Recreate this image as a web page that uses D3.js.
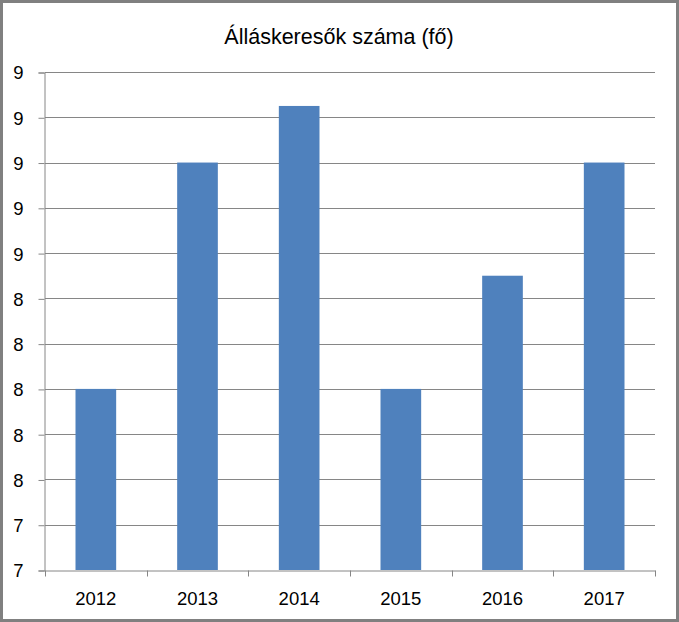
<!DOCTYPE html>
<html>
<head>
<meta charset="utf-8">
<script src="https://cdn.jsdelivr.net/npm/d3@7"></script>
<style>
  body { margin: 0; background: #fff; }
  svg { display: block; font-family: "Liberation Sans", Arial, sans-serif; }
</style>
</head>
<body>
<script>
// data
var years = ["2012", "2013", "2014", "2015", "2016", "2017"];
var seekers = [8, 9, 9.25, 8, 8.5, 9];
var yTicks = [7.2, 7.4, 7.6, 7.8, 8.0, 8.2, 8.4, 8.6, 8.8, 9.0, 9.2, 9.4];
var title = "Álláskeresők száma (fő)";

var width = 679, height = 622;
var margin = {left: 45, right: 24, top: 72, bottom: 52};

var svg = d3.select("body").append("svg")
    .attr("width", width).attr("height", height);

// chart area border
svg.append("rect")
    .attr("x", 1.5).attr("y", 1.5)
    .attr("width", width - 3).attr("height", height - 3)
    .attr("fill", "#fff").attr("stroke", "#808080").attr("stroke-width", 3);

var x = d3.scaleBand()
    .domain(years)
    .range([margin.left, width - margin.right])
    .paddingInner(0.6).paddingOuter(0.3);

var y = d3.scaleLinear()
    .domain([7.2, 9.4])
    .range([height - margin.bottom, margin.top]);

// gridlines
svg.append("g")
    .selectAll("line").data(yTicks.slice(1)).enter().append("line")
    .attr("x1", margin.left).attr("x2", width - margin.right)
    .attr("y1", function(d){ return Math.round(y(d)) + 0.5; })
    .attr("y2", function(d){ return Math.round(y(d)) + 0.5; })
    .attr("stroke", "#868686").attr("stroke-width", 1);

// bars
svg.append("g")
    .selectAll("rect").data(seekers).enter().append("rect")
    .attr("x", function(d, i){ return x(years[i]); })
    .attr("width", x.bandwidth())
    .attr("y", function(d){ return y(d); })
    .attr("height", function(d){ return y(7.2) - y(d); })
    .attr("fill", "#4F81BD");

// y axis
var yAxis = d3.axisLeft(y)
    .tickValues(yTicks)
    .tickFormat(d3.format(".0f"))
    .tickSize(6).tickPadding(15);

var yg = svg.append("g")
    .attr("transform", "translate(" + (margin.left - 0.5) + ",0.5)")
    .call(yAxis);

// x axis with ticks between categories
var xAxis = d3.axisBottom(x).tickSize(0).tickPadding(21);
var xg = svg.append("g")
    .attr("transform", "translate(0," + (Math.round(y(7.2)) + 0.5) + ")")
    .call(xAxis);

var step = x.step();
var bounds = d3.range(years.length + 1).map(function(i){
    return x(years[0]) - step * x.paddingInner() / 2 + i * step; });
xg.selectAll(".sep").data(bounds).enter().append("line")
    .attr("class", "sep")
    .attr("x1", function(d){ return Math.round(d) + 0.5; })
    .attr("x2", function(d){ return Math.round(d) + 0.5; })
    .attr("y1", 0).attr("y2", 6)
    .attr("stroke", "#868686");

svg.selectAll(".domain").attr("stroke", "#868686");
yg.selectAll(".tick line").attr("stroke", "#868686");
svg.selectAll(".tick text")
    .attr("fill", "#000").style("font-size", "18.5px");
yg.selectAll(".tick text").attr("dy", "0.35em");

svg.append("text")
    .attr("x", 339).attr("y", 44)
    .attr("text-anchor", "middle")
    .style("font-size", "21.5px")
    .attr("fill", "#000")
    .text(title);
</script>
</body>
</html>
